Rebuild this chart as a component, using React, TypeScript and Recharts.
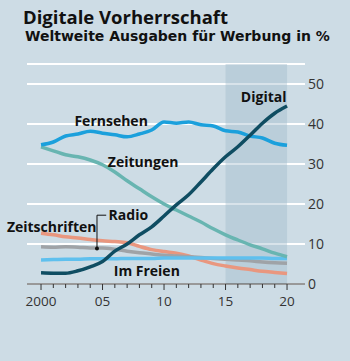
import {
  LineChart,
  Line,
  XAxis,
  YAxis,
  CartesianGrid,
  ReferenceArea,
  ReferenceDot,
  ReferenceLine,
} from "recharts";

const years = [
  2000, 2001, 2002, 2003, 2004, 2005, 2006, 2007, 2008, 2009, 2010, 2011, 2012,
  2013, 2014, 2015, 2016, 2017, 2018, 2019, 2020,
];
const digital = [
  2.8, 2.7, 2.7, 3.3, 4.3, 5.6, 8.2, 10, 12.3, 14.3, 17, 19.8, 22.3, 25.5, 28.8,
  31.8, 34.3, 37.2, 40.2, 42.7, 44.5,
];
const fernsehen = [
  34.8, 35.5, 37, 37.5, 38.2, 37.7, 37.3, 36.8, 37.5, 38.5, 40.5, 40.2, 40.5,
  39.8, 39.5, 38.3, 38, 37, 36.5, 35.2, 34.7,
];
const zeitungen = [
  34.3, 33.3, 32.3, 31.8, 31, 29.8, 28, 25.8, 23.8, 21.8, 20, 18.5, 17, 15.5,
  13.8, 12.3, 11, 9.8, 8.8, 7.7, 6.8,
];
const zeitschriften = [
  12.7, 12.3, 11.8, 11.5, 11.1, 10.8, 10.6, 10.3, 9.4, 8.6, 8.1, 7.7, 7, 6, 5.1,
  4.5, 4, 3.6, 3.2, 2.9, 2.6,
];
const radio = [
  9.3, 9.2, 9.3, 9.2, 9, 9, 8.7, 8.2, 7.8, 7.5, 7.2, 7, 6.8, 6.6, 6.4, 6.2, 6,
  5.8, 5.5, 5.3, 5.2,
];
const imFreien = [
  6, 6.1, 6.2, 6.2, 6.3, 6.3, 6.3, 6.4, 6.4, 6.4, 6.5, 6.5, 6.5, 6.5, 6.5, 6.5,
  6.5, 6.5, 6.5, 6.4, 6.4,
];
const yTicks = [0, 10, 20, 30, 40, 50];
const labeledYears: Record<number, string> = {
  2000: "2000",
  2005: "05",
  2010: "10",
  2015: "15",
  2020: "20",
};

const data = years.map((year, i) => ({
  year,
  digital: digital[i],
  fernsehen: fernsehen[i],
  zeitungen: zeitungen[i],
  zeitschriften: zeitschriften[i],
  radio: radio[i],
  imFreien: imFreien[i],
}));

const FONT = "'Open Sans', sans-serif";

const XTick = ({ x, y, payload }: any) => {
  const label = labeledYears[payload.value];
  return (
    <g>
      <line x1={x} x2={x} y1={y} y2={y + (label ? 6 : 4)} stroke="#333" strokeWidth={1} />
      {label && (
        <text x={x} y={y + 22} textAnchor="middle" fontSize={13.5} fill="#333" fontFamily={FONT}>
          {label}
        </text>
      )}
    </g>
  );
};

const YTick = ({ x, y, payload }: any) => (
  <text x={x + 3} y={y + 5} textAnchor="start" fontSize={14} fill="#333" fontFamily={FONT}>
    {payload.value}
  </text>
);

const seriesLabel = (text: string) => (props: any) => {
  const vb = props.viewBox;
  return (
    <text
      x={vb.x + vb.width / 2}
      y={vb.y + vb.height / 2}
      textAnchor="middle"
      dominantBaseline="central"
      fontSize={14}
      fontWeight={700}
      fill="#111"
      fontFamily={FONT}
    >
      {text}
    </text>
  );
};

const App = () => {
  return (
    <div
      style={{
        position: "absolute",
        left: 0,
        top: 0,
        width: 350,
        height: 361,
        background: "#cddce5",
        fontFamily: FONT,
      }}
    >
      <div
        style={{
          position: "absolute",
          left: 23,
          top: 7,
          fontSize: 18.5,
          lineHeight: "19px",
          fontWeight: 700,
          color: "#111",
          whiteSpace: "nowrap",
        }}
      >
        Digitale Vorherrschaft
      </div>
      <div
        style={{
          position: "absolute",
          left: 25,
          top: 29,
          fontSize: 14,
          lineHeight: "14px",
          fontWeight: 700,
          fontFamily: "'DejaVu Sans', sans-serif",
          color: "#111",
          whiteSpace: "nowrap",
        }}
      >
        Weltweite Ausgaben für Werbung in %
      </div>
      <LineChart
        width={350}
        height={361}
        data={data}
        margin={{ top: 64, right: 0, bottom: 47, left: 27 }}
      >
        <CartesianGrid horizontal vertical={false} stroke="#ffffff" strokeWidth={2} />
        <ReferenceArea x1={2015} x2={2020} y1={0} y2={55} fill="#9db8cb" fillOpacity={0.4} />
        <XAxis
          dataKey="year"
          type="number"
          domain={[1998.86, 2021.46]}
          ticks={years}
          interval={0}
          tick={<XTick />}
          tickLine={false}
          tickSize={0}
          tickMargin={0}
          height={30}
          axisLine={{ stroke: "#333", strokeWidth: 1 }}
        />
        <YAxis
          orientation="right"
          domain={[0, 55]}
          ticks={yTicks}
          tick={<YTick />}
          axisLine={false}
          tickLine={false}
          tickSize={0}
          tickMargin={0}
          width={45}
        />
        <Line type="monotone" dataKey="zeitschriften" stroke="#e9977f" strokeWidth={3.5} dot={false} isAnimationActive={false} />
        <Line type="monotone" dataKey="radio" stroke="#9fa3a7" strokeWidth={3.5} dot={false} isAnimationActive={false} />
        <Line type="monotone" dataKey="imFreien" stroke="#5fc0ee" strokeWidth={3.5} dot={false} isAnimationActive={false} />
        <Line type="monotone" dataKey="zeitungen" stroke="#68b5b1" strokeWidth={3.5} dot={false} isAnimationActive={false} />
        <Line type="monotone" dataKey="fernsehen" stroke="#1ba0dc" strokeWidth={3.5} dot={false} isAnimationActive={false} />
        <Line type="monotone" dataKey="digital" stroke="#0f4d62" strokeWidth={3.5} dot={false} isAnimationActive={false} />
        <ReferenceLine
          segment={[
            { x: 2004.55, y: 17.2 },
            { x: 2004.55, y: 8.9 },
          ]}
          stroke="#111"
          strokeWidth={1}
        />
        <ReferenceLine
          segment={[
            { x: 2004.55, y: 17.2 },
            { x: 2005.3, y: 17.2 },
          ]}
          stroke="#111"
          strokeWidth={1}
        />
        <ReferenceDot x={2004.55} y={8.9} r={2} fill="#111" stroke="none" />
        <ReferenceDot x={2005.7} y={40.8} r={0} stroke="none" label={seriesLabel("Fernsehen")} />
        <ReferenceDot x={2008.3} y={30.6} r={0} stroke="none" label={seriesLabel("Zeitungen")} />
        <ReferenceDot x={2018.1} y={46.8} r={0} stroke="none" label={seriesLabel("Digital")} />
        <ReferenceDot x={2007.1} y={17.5} r={0} stroke="none" label={seriesLabel("Radio")} />
        <ReferenceDot x={2000.87} y={14.5} r={0} stroke="none" label={seriesLabel("Zeitschriften")} />
        <ReferenceDot x={2008.6} y={3.5} r={0} stroke="none" label={seriesLabel("Im Freien")} />
      </LineChart>
    </div>
  );
};

export default App;
